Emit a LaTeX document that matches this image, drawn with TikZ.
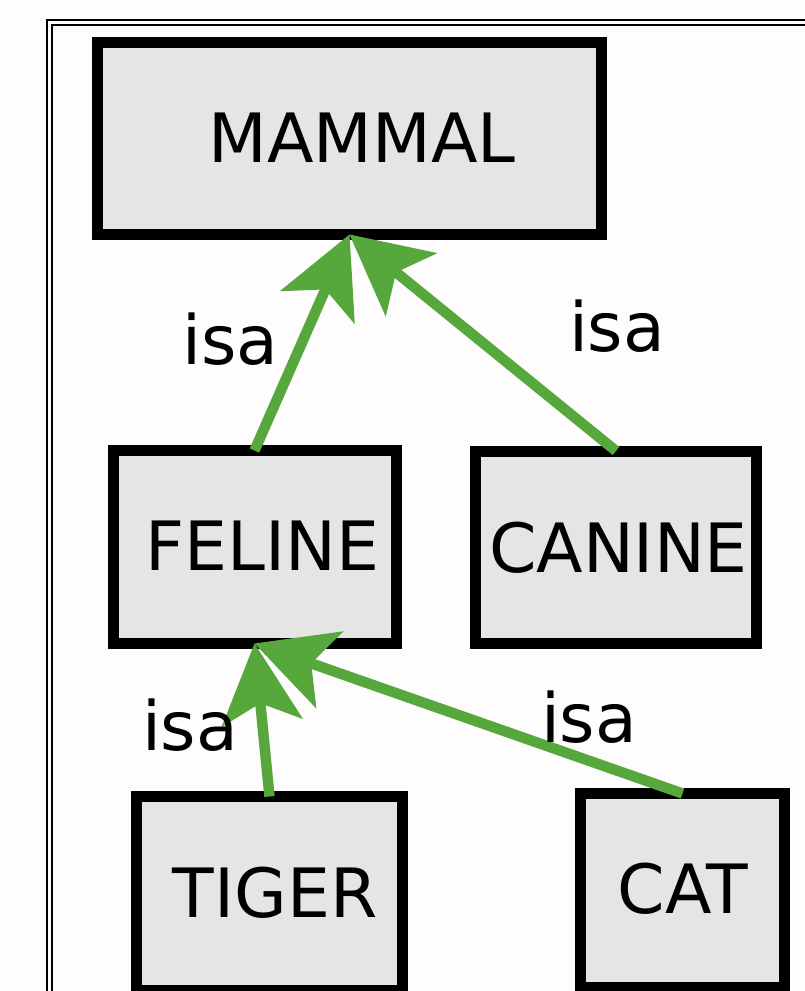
\documentclass[tikz,border=0pt]{standalone}
\usepackage{fontspec}
\setmainfont{DejaVu Sans}
\usetikzlibrary{arrows.meta}
\definecolor{isagreen}{RGB}{86,168,60}
\definecolor{boxfill}{RGB}{229,229,229}
\definecolor{bgcol}{RGB}{254,252,252}
\begin{document}
\begin{tikzpicture}[x=1pt,y=-1pt,
  box/.style={draw=black,line width=11pt,fill=boxfill,rectangle,inner sep=0pt,outer sep=0pt,minimum height=192pt},
  lbl/.style={anchor=base,inner sep=0pt,font=\fontsize{68}{80}\selectfont},
  isaarrow/.style={draw=isagreen,line width=10.5pt,
    -{Stealth[length=80pt,width=82pt,inset=20pt,line width=0pt]}},
  frameline/.style={draw=black,line width=1.6pt}]
\useasboundingbox[fill=bgcol] (0,0) rectangle (805,991);
% frame
\draw[frameline] (47,1100) -- (47,20) -- (900,20);
\draw[frameline] (52,1100) -- (52,25) -- (900,25);
% boxes
\node[box,minimum width=504pt] (M) at (349.5,138.5) {};
\node[box,minimum width=283pt,minimum height=193pt] (F) at (254.5,547) {};
\node[box,minimum width=281pt] (C) at (616,547) {};
\node[box,minimum width=266pt,minimum height=194pt] (T) at (269.5,893.5) {};
\node[box,minimum width=204pt,minimum height=194pt] (K) at (682.5,890.5) {};
% box texts
\node[lbl] (Mt) at (362,162) {MAMMAL};
\node[lbl] (Ft) at (262.5,570) {FELINE};
\node[lbl] (Ct) at (618.5,572) {CANINE};
\node[lbl] (Tt) at (275,917) {TIGER};
\node[lbl] (Kt) at (683,913) {CAT};
% arrows
\draw[isaarrow] (F.north) -- (M.south);
\draw[isaarrow] (C.north) -- (M.south);
\draw[isaarrow] (T.north) -- (F.south);
\draw[isaarrow] (K.north) -- (F.south);
% labels
\node[lbl] (l1) at (230.5,364) {isa};
\node[lbl] (l2) at (617,351) {isa};
\node[lbl] (l3) at (190,750) {isa};
\node[lbl] (l4) at (589,742) {isa};
\end{tikzpicture}
\end{document}
